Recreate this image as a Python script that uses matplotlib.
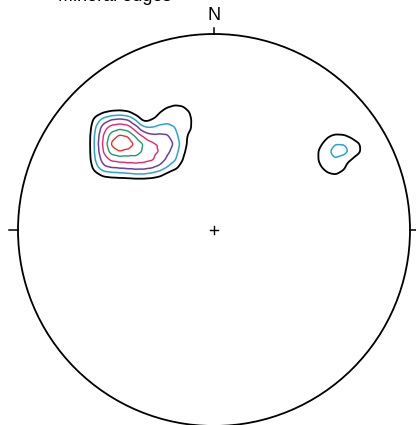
import numpy as np
import matplotlib.pyplot as plt
from matplotlib.patches import Circle

plt.rcParams['font.family'] = ['Liberation Sans', 'DejaVu Sans']

title = "Mineral edges"

# Pole counts per 0.04 cell of the equal-area net, two clusters.
# Each block: (x of first column, y of first row), rows go downward.
cell = 0.04
west_origin = (-0.64, 0.64)
west_counts = [
    [0, 0, 0, 0, 0, 0, 0, 0, 0, 0, 0.7, 1.0, 0.9, 0.3],
    [0, 0.5, 0.9, 1.2, 1.3, 1.1, 0.5, 0, 0.3, 1.0, 1.6, 1.6, 1.6, 1.0],
    [0.3, 1.6, 2.6, 3.2, 3.4, 3.2, 2.0, 0.6, 1.0, 1.4, 1.6, 1.6, 1.6, 1.2],
    [0.4, 2.2, 3.8, 4.6, 4.8, 4.6, 3.6, 2.2, 2.0, 2.4, 2.6, 2.0, 1.4, 1.2],
    [0.5, 2.5, 4.2, 5.6, 6.2, 6.0, 4.8, 3.8, 3.2, 3.2, 3.1, 2.4, 1.3, 0.8],
    [0.5, 2.6, 4.4, 6.4, 7.2, 6.8, 5.9, 5.0, 4.2, 4.0, 4.0, 2.8, 1.6, 0.5],
    [0.5, 2.5, 4.2, 5.6, 6.0, 5.6, 5.6, 4.8, 4.2, 4.0, 3.2, 2.5, 1.3, 0.3],
    [0.5, 2.3, 3.6, 4.2, 4.4, 4.5, 4.6, 4.4, 4.2, 3.8, 2.8, 2.2, 1.0, 0],
    [0.3, 1.8, 3.0, 3.1, 3.2, 3.3, 3.4, 3.4, 3.2, 2.8, 2.0, 1.4, 0.5, 0],
    [0, 0.6, 1.2, 1.4, 1.5, 1.6, 1.8, 1.8, 1.6, 1.2, 0.6, 0, 0, 0],
]
east_origin = (0.54, 0.48)
east_counts = [
    [0, 0.9, 1.3, 1.2, 0.8, 0],
    [0.8, 1.6, 2.0, 2.0, 1.7, 1.2],
    [1.3, 1.8, 2.5, 2.4, 1.9, 1.3],
    [1.3, 1.7, 1.9, 1.6, 1.0, 0.3],
    [0.9, 1.6, 1.7, 1.3, 0.2, 0],
    [0, 0.8, 1.0, 0.6, 0, 0],
]

levels = [1, 2, 3, 4, 5, 6]
level_colors = ['black', '#29a3dc', '#6b3fa0', '#e8246e', '#1f9a68', '#e8302e']
level_widths = [1.3, 1.1, 1.1, 1.0, 1.0, 1.0]

sigma = 0.022

# Smooth the cell counts with a gaussian kernel onto a fine grid
g = np.linspace(-1, 1, 801)
gx, gy = np.meshgrid(g, g)
dens = np.zeros_like(gx)
norm = cell ** 2 / (2 * np.pi * sigma ** 2)
for (x0, y0), counts in [(west_origin, west_counts), (east_origin, east_counts)]:
    for j, row in enumerate(counts):
        for i, n in enumerate(row):
            if n == 0:
                continue
            px, py = x0 + i * cell, y0 - j * cell
            dens += n * norm * np.exp(-((gx - px) ** 2 + (gy - py) ** 2) / (2 * sigma ** 2))
dens[gx ** 2 + gy ** 2 > 1] = 0

W, H = 416, 425
cx, cy, R = 214, 230, 196
fig = plt.figure(figsize=(W / 100, H / 100), dpi=100)
ax = fig.add_axes([(cx - R) / W, (H - cy - R) / H, 2 * R / W, 2 * R / H])
ax.set_xlim(-1, 1)
ax.set_ylim(-1, 1)
ax.set_aspect('equal')
ax.axis('off')

ax.contour(gx, gy, dens, levels=levels, colors=level_colors, linewidths=level_widths)

# Primitive circle, N/E/W ticks and centre cross
ax.add_patch(Circle((0, 0), 1, fill=False, color='black', lw=1.3, clip_on=False))
tick = 9 / R
ax.plot([0, 0], [1, 1 + 0.7 * tick], color='black', lw=1.1, clip_on=False)
ax.plot([-1 - tick, -1], [0, 0], color='black', lw=1.1, clip_on=False)
ax.plot([1, 1 + tick], [0, 0], color='black', lw=1.1, clip_on=False)
arm = 4 / R
ax.plot([-arm, arm], [0, 0], color='black', lw=1.0)
ax.plot([0, 0], [-arm, arm], color='black', lw=1.0)
ax.text(0, 1 + 10 / R, "N", ha='center', va='bottom', fontsize=13)

fig.text(58 / W, 1 - 1.0 / H, title, ha='left', va='baseline', fontsize=13)

fig.savefig("out.png", dpi=100)
